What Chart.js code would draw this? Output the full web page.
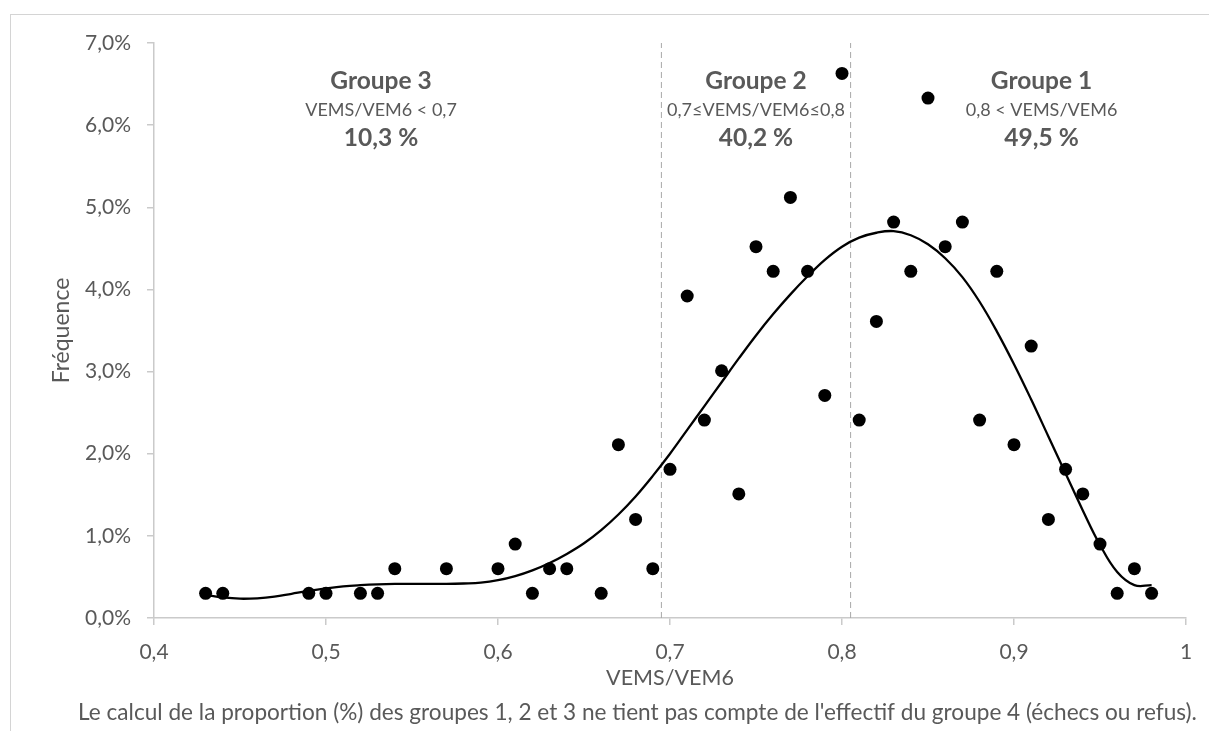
<!DOCTYPE html>
<html lang="fr">
<head>
<meta charset="utf-8">
<title>Distribution VEMS/VEM6</title>
<script src="https://cdn.jsdelivr.net/npm/chart.js@4.4.1/dist/chart.umd.min.js"></script>
<style>
  html, body { margin: 0; padding: 0; background: #ffffff; overflow: hidden; }
  #frame {
    position: absolute; left: 10px; top: 14px; width: 1400px; height: 900px;
    border: 1px solid #d4d4d4; box-sizing: border-box;
  }
  #c { position: absolute; left: 0; top: 0; }
</style>
</head>
<body>
<div id="frame"></div>
<canvas id="c" width="1209" height="731"></canvas>
<script>
// Observed frequency (%) for each VEMS/VEM6 ratio
const ratios = [0.43, 0.44, 0.49, 0.50, 0.52, 0.53, 0.54, 0.57, 0.60, 0.61, 0.62, 0.63, 0.64, 0.66,
                0.67, 0.68, 0.69, 0.70, 0.71, 0.72, 0.73, 0.74, 0.75, 0.76, 0.77, 0.78, 0.79, 0.80,
                0.81, 0.82, 0.83, 0.84, 0.85, 0.86, 0.87, 0.88, 0.89, 0.90, 0.91, 0.92, 0.93, 0.94,
                0.95, 0.96, 0.97, 0.98];
const frequencies = [0.30, 0.30, 0.30, 0.30, 0.30, 0.30, 0.60, 0.60, 0.60, 0.90, 0.30, 0.60, 0.60, 0.30,
                     2.11, 1.20, 0.60, 1.81, 3.92, 2.41, 3.01, 1.51, 4.52, 4.22, 5.12, 4.22, 2.71, 6.63,
                     2.41, 3.61, 4.82, 4.22, 6.33, 4.52, 4.82, 2.41, 4.22, 2.11, 3.31, 1.20, 1.81, 1.51,
                     0.90, 0.30, 0.60, 0.30];

// Fitted trend curve (%)
const trendRatios = [0.43, 0.44, 0.45, 0.46, 0.47, 0.48, 0.49, 0.50, 0.51, 0.52, 0.53, 0.54, 0.55, 0.56,
                     0.57, 0.58, 0.59, 0.60, 0.61, 0.62, 0.63, 0.64, 0.65, 0.66, 0.67, 0.68, 0.69, 0.70,
                     0.71, 0.72, 0.73, 0.74, 0.75, 0.76, 0.77, 0.78, 0.79, 0.80, 0.81, 0.82, 0.83, 0.84,
                     0.85, 0.86, 0.87, 0.88, 0.89, 0.90, 0.91, 0.92, 0.93, 0.94, 0.95, 0.96, 0.97, 0.98];
const trendValues = [0.28, 0.25, 0.235, 0.24, 0.26, 0.295, 0.33, 0.36, 0.385, 0.40, 0.41, 0.415, 0.415, 0.415,
                     0.415, 0.42, 0.43, 0.46, 0.51, 0.58, 0.67, 0.78, 0.91, 1.07, 1.26, 1.48, 1.73, 2.00,
                     2.29, 2.58, 2.87, 3.16, 3.44, 3.70, 3.94, 4.16, 4.36, 4.52, 4.63, 4.69, 4.71, 4.66,
                     4.55, 4.38, 4.15, 3.85, 3.49, 3.09, 2.66, 2.21, 1.76, 1.31, 0.89, 0.56, 0.40, 0.40];

// Group boundaries on the ratio axis
const boundaries = [0.695, 0.805];

// Group captions
const groupNames = ['Groupe 3', 'Groupe 2', 'Groupe 1'];
const groupRanges = ['VEMS/VEM6 < 0,7', '0,7≤VEMS/VEM6≤0,8', '0,8 < VEMS/VEM6'];
const groupShares = ['10,3 %', '40,2 %', '49,5 %'];

// Axis ticks
const xTickValues = [0.4, 0.5, 0.6, 0.7, 0.8, 0.9, 1];
const xTickLabels = ['0,4', '0,5', '0,6', '0,7', '0,8', '0,9', '1'];
const yTickValues = [0, 1, 2, 3, 4, 5, 6, 7];
const yTickLabels = ['0,0%', '1,0%', '2,0%', '3,0%', '4,0%', '5,0%', '6,0%', '7,0%'];

const footnote = "Le calcul de la proportion (%) des groupes 1, 2 et 3 ne tient pas compte de l'effectif du groupe 4 (échecs ou refus).";

const TEXT = '#595959';
const AXIS = '#cacaca';
const FONT = 'Lato, "DejaVu Sans", sans-serif';
const groupCaptionX = [0.532, 0.75, 0.916];

const captions = {
  id: 'captions',
  afterDraw(chart) {
    const { ctx, chartArea, scales: { x } } = chart;
    ctx.save();
    ctx.fillStyle = TEXT;
    ctx.textAlign = 'center';
    ctx.textBaseline = 'alphabetic';
    groupNames.forEach((name, i) => {
      const cx = x.getPixelForValue(groupCaptionX[i]);
      ctx.font = 'bold 24.5px ' + FONT;
      ctx.fillText(name, cx, chartArea.top + 45.5);
      ctx.font = '18px ' + FONT;
      ctx.fillText(groupRanges[i], cx, chartArea.top + 72.5);
      ctx.font = 'bold 24.5px ' + FONT;
      ctx.fillText(groupShares[i], cx, chartArea.top + 103);
    });
    ctx.font = '22.6px ' + FONT;
    ctx.fillText(footnote, 637.5, 720);
    ctx.restore();
  }
};

const boundaryDatasets = boundaries.map(b => ({
  type: 'line',
  data: [{ x: b, y: 0 }, { x: b, y: 7 }],
  borderColor: '#a8a8a8',
  borderWidth: 1,
  borderDash: [6, 4],
  pointRadius: 0,
  showLine: true,
  order: 3
}));

new Chart(document.getElementById('c'), {
  type: 'scatter',
  data: {
    datasets: [
      ...boundaryDatasets,
      {
        data: ratios.map((r, i) => ({ x: r, y: frequencies[i] })),
        pointRadius: 6.5,
        pointBackgroundColor: '#000000',
        pointBorderWidth: 0,
        order: 2
      },
      {
        type: 'line',
        data: trendRatios.map((r, i) => ({ x: r, y: trendValues[i] })),
        borderColor: '#000000',
        borderWidth: 2.3,
        pointRadius: 0,
        showLine: true,
        tension: 0.4,
        fill: false,
        order: 1
      }
    ]
  },
  options: {
    responsive: false,
    animation: false,
    events: [],
    layout: { padding: { left: 0, top: 43, right: 23, bottom: 0 } },
    plugins: { legend: { display: false }, tooltip: { enabled: false } },
    scales: {
      x: {
        type: 'linear',
        min: 0.4,
        max: 1,
        afterBuildTicks: s => { s.ticks = xTickValues.map(v => ({ value: v })); },
        afterFit: s => { s.height = 113; },
        ticks: {
          color: TEXT,
          font: { family: FONT, size: 21 },
          padding: 15,
          maxRotation: 0,
          autoSkip: false,
          callback: (v, i) => xTickLabels[i]
        },
        grid: { drawOnChartArea: false, drawTicks: true, tickLength: 7, color: AXIS, lineWidth: 1.5 },
        border: { color: AXIS, width: 1.5 },
        title: {
          display: true,
          text: 'VEMS/VEM6',
          color: TEXT,
          font: { family: FONT, size: 21.5 },
          padding: { top: 0, bottom: 40 }
        }
      },
      y: {
        min: 0,
        max: 7,
        afterBuildTicks: s => { s.ticks = yTickValues.map(v => ({ value: v })); },
        afterFit: s => { s.width = 154; },
        ticks: {
          color: TEXT,
          font: { family: FONT, size: 21 },
          padding: 16,
          callback: (v, i) => yTickLabels[i]
        },
        grid: { drawOnChartArea: false, drawTicks: true, tickLength: 7, color: AXIS, lineWidth: 1.5 },
        border: { color: AXIS, width: 1.5 },
        title: {
          display: true,
          text: 'Fréquence',
          color: TEXT,
          font: { family: FONT, size: 23 },
          padding: { top: 48, bottom: 0 }
        }
      }
    }
  },
  plugins: [captions]
});
</script>
</body>
</html>
